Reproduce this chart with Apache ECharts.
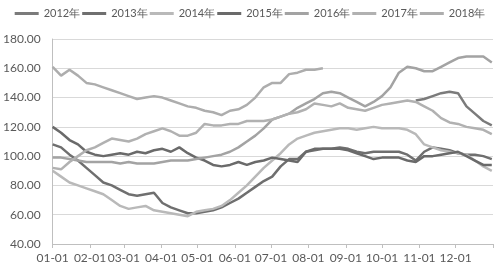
<!DOCTYPE html>
<html><head><meta charset="utf-8">
<script src="https://cdn.jsdelivr.net/npm/echarts@6/dist/echarts.min.js"></script>
<style>html,body{margin:0;padding:0;background:#fff}#c{width:500px;height:272px}</style>
</head><body><div id="c"></div>
<script>
const days = [0,7,14,21,28,35,42,49,56,63,70,77,84,91,98,105,112,119,126,133,140,147,154,161,168,175,182,189,196,203,210,217,224,231,238,245,252,259,266,273,280,287,294,301,308,315,322,329,336,343,350,357,364];
const monthStarts = [0,31,59,90,120,151,181,212,243,273,304,334,365];
const monthLabels = ['01-01','02-01','03-01','04-01','05-01','06-01','07-01','08-01','09-01','10-01','11-01','12-01'];
const yTicks = [40,60,80,100,120,140,160,180];
const seriesNames = ['2012年','2013年','2014年','2015年','2016年','2017年','2018年'];
const N = null;
const s2012 = [N,N,N,N,N,N,N,N,N,N,N,N,N,N,N,N,N,N,N,N,N,N,N,N,N,N,N,N,N,N,N,N,N,N,N,N,N,N,N,N,N,N,N,138,139,141,143,144,143,134,129,124,121];
const s2013 = [108,106,101,97,92,87,82,80,77,74,73,74,75,68,65,63,61,61,62,63,65,68,71,75,79,83,86,93,98,98,103,104,105,105,106,105,103,102,103,103,103,103,101,97,103,106,105,104,102,101,101,100,98];
const s2014 = [90,86,82,80,78,76,74,70,66,64,65,66,63,62,61,60,59,62,63,64,66,70,75,80,86,92,97,102,108,112,114,116,117,118,119,119,118,119,120,119,119,119,118,115,108,106,104,103,102,101,97,93,90];
const s2015 = [120,116,111,108,103,101,100,101,102,101,103,102,104,105,103,106,102,99,97,94,93,94,96,94,96,97,99,98,97,96,103,105,105,105,105,104,102,100,98,99,99,99,97,96,100,100,101,102,103,100,97,94,94];
const s2016 = [99,99,98,97,96,96,96,96,95,96,95,95,95,96,97,97,97,98,99,100,101,103,106,110,114,119,125,127,129,133,136,139,143,144,143,140,137,134,137,141,147,157,161,160,158,158,161,164,167,168,168,168,164];
const s2017 = [92,91,96,100,104,106,109,112,111,110,112,115,117,119,117,114,114,116,122,121,121,122,122,124,124,124,125,127,129,130,132,136,135,134,136,133,132,131,133,135,136,137,138,137,134,131,126,123,122,120,119,118,115];
const s2018 = [161,155,159,155,150,149,147,145,143,141,139,140,141,140,138,136,134,133,131,130,128,131,132,135,140,147,150,150,156,157,159,159,160,N,N,N,N,N,N,N,N,N,N,N,N,N,N,N,N,N,N,N,N];
const allValues = [s2012,s2013,s2014,s2015,s2016,s2017,s2018];
const colors = ['#7b7b7b','#6f6f6f','#b9b9b9','#6a6a6a','#a3a3a3','#b1b1b1','#adadad'];
const font = 'Lato, "Noto Sans", sans-serif';
const chart = echarts.init(document.getElementById('c'), null, {renderer:'canvas'});
chart.setOption({
  animation:false,
  color: colors,
  legend:{
    top:8, left:'center', width:500, padding:0, icon:'rect', itemWidth:24, itemHeight:3, itemGap:2,
    textStyle:{color:'#595959', fontSize:11, fontFamily:font},
    data: seriesNames
  },
  grid:{left:51, right:7, top:39, bottom:28, containLabel:false},
  xAxis:{
    type:'value', min:0, max:365,
    axisLine:{show:true, lineStyle:{color:'#bfbfbf'}},
    axisTick:{show:true, length:4, lineStyle:{color:'#bfbfbf'}, customValues: monthStarts},
    axisLabel:{color:'#595959', fontSize:12, fontFamily:font, margin:8,
      customValues: monthStarts.slice(0,12),
      formatter: v => monthLabels[monthStarts.indexOf(v)] || ''},
    splitLine:{show:false}
  },
  yAxis:{
    type:'value', min:40, max:180, interval:20,
    axisLine:{show:true, lineStyle:{color:'#bfbfbf'}},
    axisTick:{show:false},
    axisLabel:{color:'#595959', fontSize:12, fontFamily:font, margin:12, formatter: v => v.toFixed(2)},
    splitLine:{show:true, lineStyle:{color:'#d9d9d9', width:1}}
  },
  series: seriesNames.map((name,k)=>({
    name, type:'line', showSymbol:false, symbol:'none', connectNulls:false,
    lineStyle:{width:2.5, color:colors[k]},
    itemStyle:{color:colors[k]},
    data: days.map((d,i)=>[d, allValues[k][i]])
  }))
});
</script></body></html>
